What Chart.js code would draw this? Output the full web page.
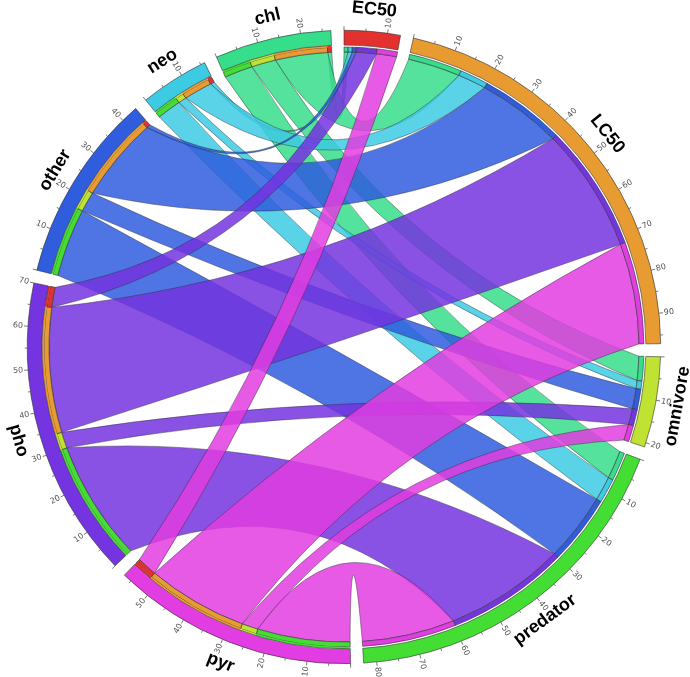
<!DOCTYPE html>
<html>
<head>
<meta charset="utf-8">
<script src="https://cdn.jsdelivr.net/npm/chart.js@4.4.1/dist/chart.umd.min.js"></script>
<style>
  html, body { margin: 0; padding: 0; background: #ffffff; }
  canvas { display: block; }
</style>
</head>
<body>
<canvas id="chord" width="690" height="677"></canvas>
<script>
// sectors clockwise from 12 o'clock
const sectorNames = ['EC50', 'LC50', 'omnivore', 'predator', 'pyr', 'pho', 'other', 'neo', 'chl'];
const pesticideNames = ['chl', 'neo', 'other', 'pho', 'pyr'];
const targetNames = ['EC50', 'LC50', 'omnivore', 'predator'];

// number of records per pesticide class (order of pesticideNames)
const toEC50 = [1, 1, 1, 5, 5];
const toLC50 = [13, 7, 21, 31, 25];
const toOmnivore = [6, 2, 5, 4, 4];
const toPredator = [7, 6, 17, 30, 23];

const colors = {
  EC50: '#E3312F', LC50: '#E89B31', omnivore: '#BFE233', predator: '#44DD33',
  pyr: '#E23DE2', pho: '#7434E0', other: '#2F5DDE', neo: '#3DCAE3', chl: '#36DD8B'
};
const GAP = 3;           // gap between sectors, in record units
const LINK_ALPHA = 0.85;
const CTRL = 0.55;       // how far the link curve pulls to the centre

const links = { EC50: toEC50, LC50: toLC50, omnivore: toOmnivore, predator: toPredator };
const clear = 'rgba(0,0,0,0)';

function rgba(hex, a) {
  const n = parseInt(hex.slice(1), 16);
  return 'rgba(' + (n >> 16) + ',' + ((n >> 8) & 255) + ',' + (n & 255) + ',' + a + ')';
}

// build the three rings: sector ring, thin spacer, link-root ring
const outerData = [], outerColors = [], outerBorders = [];
const innerData = [], innerColors = [], midColors = [], innerBorders = [];
const ends = {};
sectorNames.forEach(function(name) {
  let total = 0;
  if (targetNames.includes(name)) {
    pesticideNames.forEach(function(p, i) {
      const v = links[name][i];
      const key = p + '|' + name;
      ends[key] = ends[key] || {};
      ends[key].t = innerData.length;
      innerData.push(v); innerColors.push(colors[p]); midColors.push(clear); innerBorders.push(0.6);
      total += v;
    });
  } else {
    const pi = pesticideNames.indexOf(name);
    ['predator', 'omnivore', 'LC50', 'EC50'].forEach(function(t) {
      const v = links[t][pi];
      const key = name + '|' + t;
      ends[key] = ends[key] || {};
      ends[key].p = innerData.length;
      innerData.push(v); innerColors.push(colors[t]); midColors.push(colors[t]); innerBorders.push(0.6);
      total += v;
    });
  }
  outerData.push(total); outerColors.push(colors[name]); outerBorders.push(0.6);
  outerData.push(GAP); outerColors.push(clear); outerBorders.push(0);
  innerData.push(GAP); innerColors.push(clear); midColors.push(clear); innerBorders.push(0);
});

const chordPlugin = {
  id: 'chord',
  beforeDatasetsDraw(chart) {
    const ctx = chart.ctx;
    const inner = chart.getDatasetMeta(2).data;
    const cx = inner[0].x, cy = inner[0].y, r = inner[0].innerRadius;
    const pt = a => [cx + r * Math.cos(a), cy + r * Math.sin(a)];
    ctx.save();
    pesticideNames.forEach(function(p) {
      targetNames.forEach(function(t) {
        const e = ends[p + '|' + t];
        const A = inner[e.p], B = inner[e.t];
        const a1 = A.startAngle, a2 = A.endAngle, b1 = B.startAngle, b2 = B.endAngle;
        const pa2 = pt(a2), pb1 = pt(b1), pb2 = pt(b2), pa1 = pt(a1);
        ctx.beginPath();
        ctx.arc(cx, cy, r, a1, a2);
        ctx.quadraticCurveTo(cx + CTRL * ((pa2[0] + pb1[0]) / 2 - cx), cy + CTRL * ((pa2[1] + pb1[1]) / 2 - cy), pb1[0], pb1[1]);
        ctx.arc(cx, cy, r, b1, b2);
        ctx.quadraticCurveTo(cx + CTRL * ((pb2[0] + pa1[0]) / 2 - cx), cy + CTRL * ((pb2[1] + pa1[1]) / 2 - cy), pa1[0], pa1[1]);
        ctx.closePath();
        ctx.fillStyle = rgba(colors[p], LINK_ALPHA);
        ctx.fill();
        ctx.strokeStyle = 'rgba(40,40,40,0.7)';
        ctx.lineWidth = 0.6;
        ctx.stroke();
      });
    });
    ctx.restore();
  },
  afterDatasetsDraw(chart) {
    const ctx = chart.ctx;
    const outer = chart.getDatasetMeta(0).data;
    ctx.save();
    sectorNames.forEach(function(name, i) {
      const arc = outer[2 * i];
      const cx = arc.x, cy = arc.y, R = arc.outerRadius;
      const value = outerData[2 * i];
      const per = (arc.endAngle - arc.startAngle) / value;
      // axis ticks every 5, labels every 10
      for (let v = 0; v <= value; v += 5) {
        const a = arc.startAngle + v * per;
        const len = v % 10 === 0 ? 4 : 2.5;
        ctx.beginPath();
        ctx.moveTo(cx + R * Math.cos(a), cy + R * Math.sin(a));
        ctx.lineTo(cx + (R + len) * Math.cos(a), cy + (R + len) * Math.sin(a));
        ctx.strokeStyle = '#555';
        ctx.lineWidth = 0.8;
        ctx.stroke();
        if (v % 10 === 0 && v > 0) {
          ctx.save();
          ctx.translate(cx, cy);
          ctx.rotate(a);
          ctx.font = "8px 'DejaVu Sans'";
          ctx.fillStyle = '#555';
          ctx.textBaseline = 'middle';
          if (Math.cos(a) >= -0.001) {
            ctx.textAlign = 'left';
            ctx.fillText(String(v), R + 5, 0);
          } else {
            ctx.rotate(Math.PI);
            ctx.textAlign = 'right';
            ctx.fillText(String(v), -(R + 5), 0);
          }
          ctx.restore();
        }
      }
      // sector name
      const mid = (arc.startAngle + arc.endAngle) / 2;
      const rl = R + 22;
      ctx.save();
      ctx.translate(cx + rl * Math.cos(mid), cy + rl * Math.sin(mid));
      ctx.rotate(Math.sin(mid) > 0 ? mid - Math.PI / 2 : mid + Math.PI / 2);
      ctx.font = "bold 18px 'Liberation Sans'";
      ctx.fillStyle = '#000';
      ctx.textAlign = 'center';
      ctx.textBaseline = 'middle';
      ctx.fillText(name, 0, 0);
      ctx.restore();
    });
    ctx.restore();
  }
};

new Chart(document.getElementById('chord'), {
  type: 'doughnut',
  data: {
    labels: outerData.map((v, i) => i % 2 === 0 ? sectorNames[i / 2] : ''),
    datasets: [
      { data: outerData, backgroundColor: outerColors, borderColor: '#333', borderWidth: outerBorders, weight: 15 },
      { data: innerData, backgroundColor: midColors, borderWidth: 0, weight: 2 },
      { data: innerData, backgroundColor: innerColors, borderColor: '#333', borderWidth: innerBorders, weight: 5 }
    ]
  },
  options: {
    responsive: false,
    animation: false,
    cutout: 295,
    rotation: 0,
    layout: { padding: { left: 27, right: 29, top: 30, bottom: 13 } },
    plugins: { legend: { display: false }, tooltip: { enabled: false } },
    events: []
  },
  plugins: [chordPlugin]
});
</script>
</body>
</html>
